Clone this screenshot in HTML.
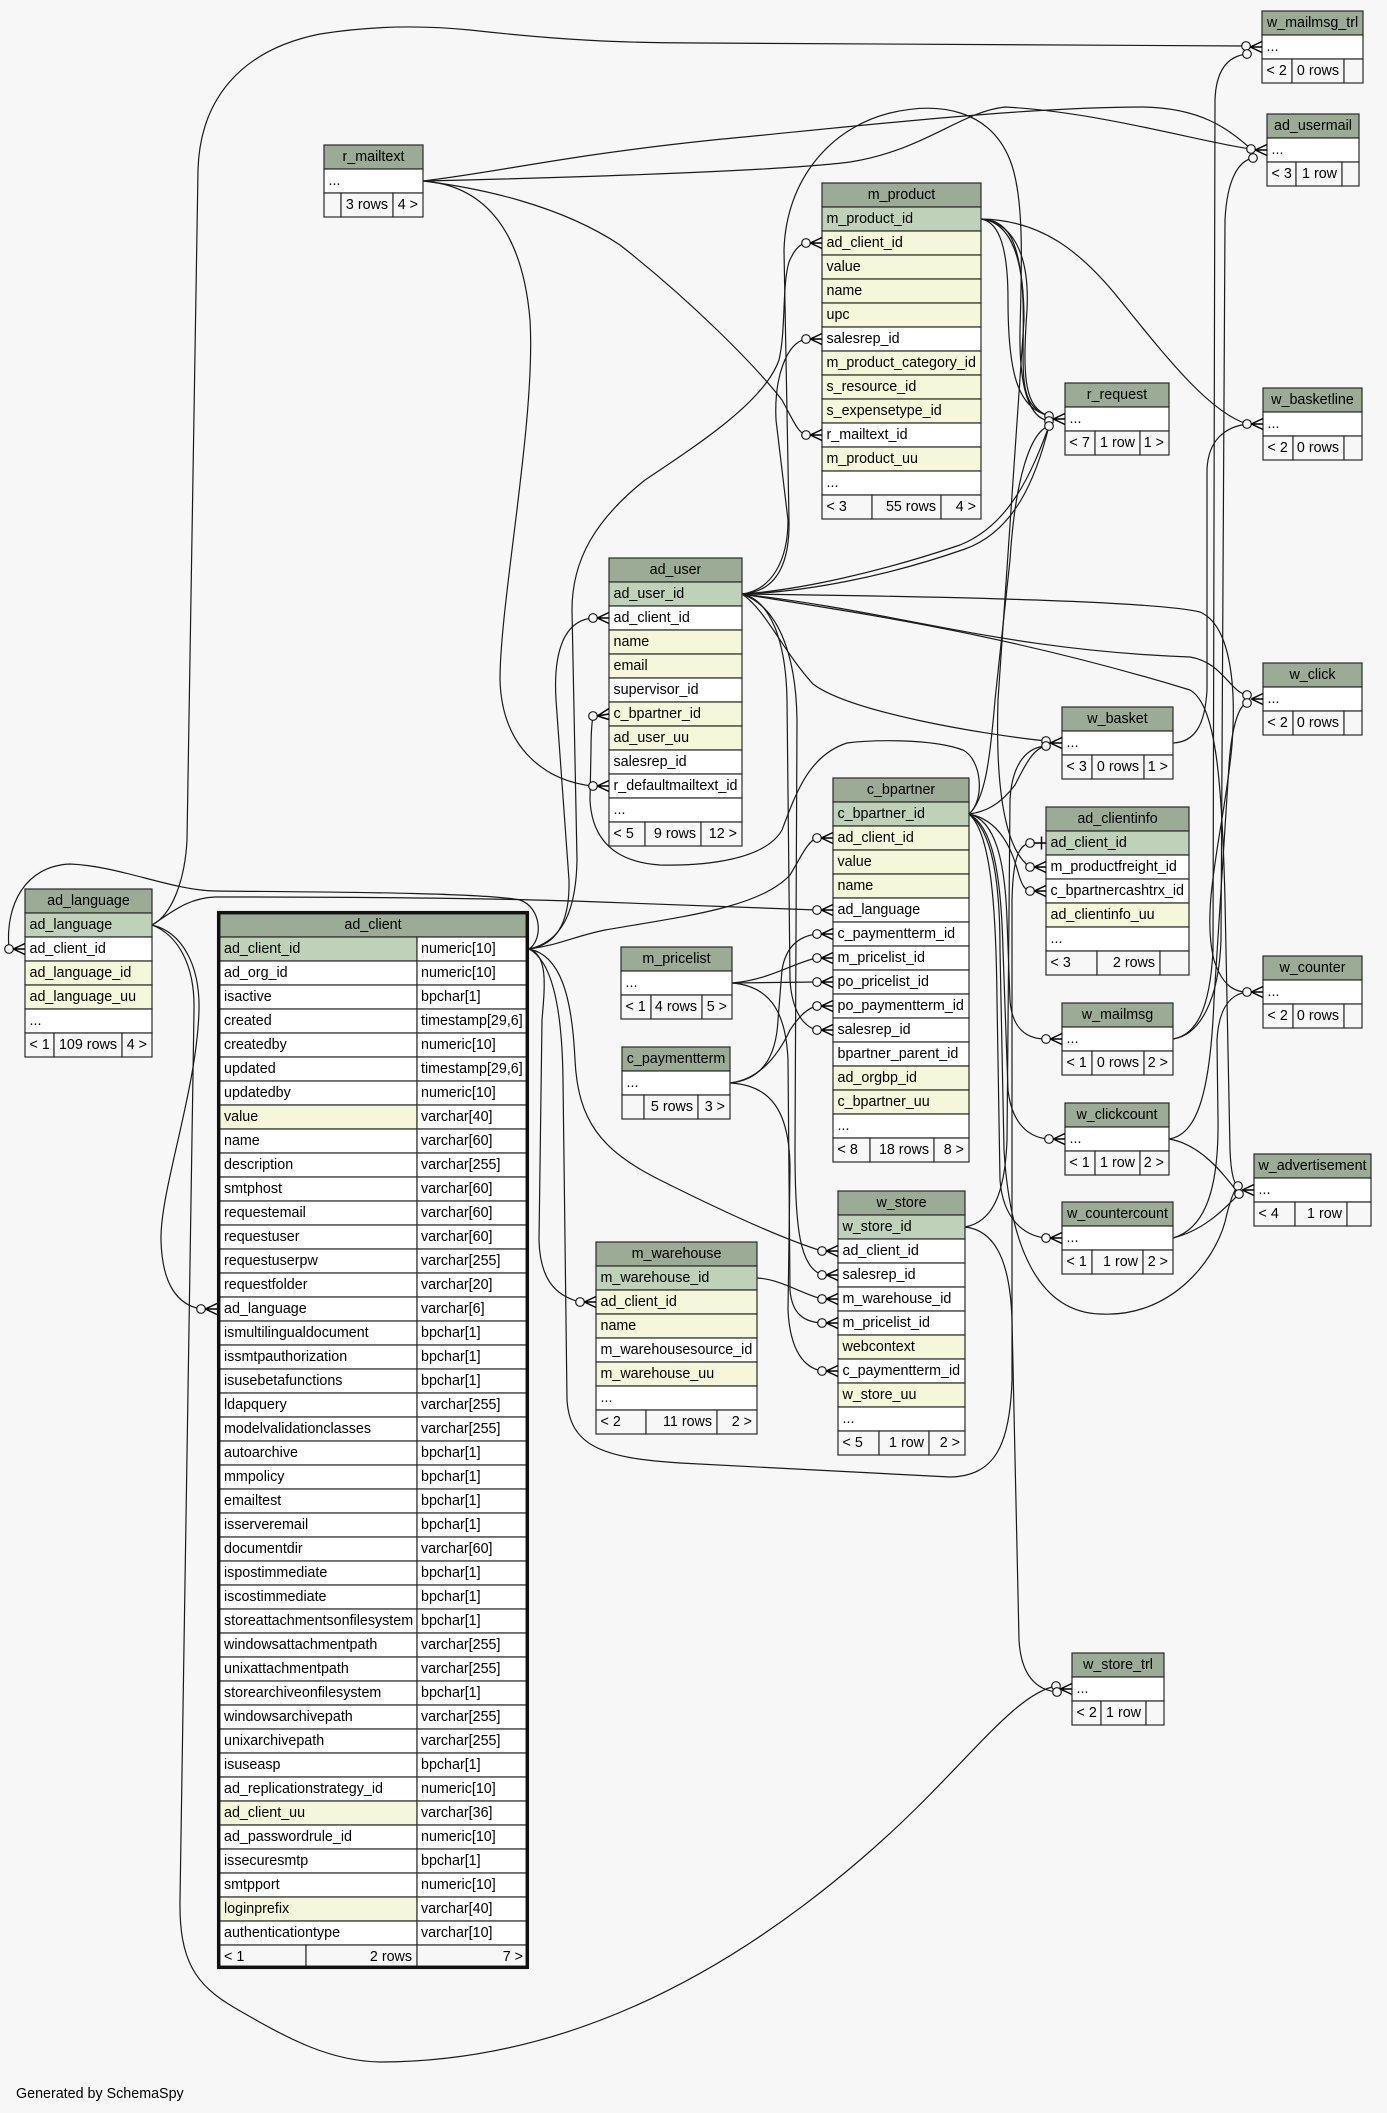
<!DOCTYPE html>
<html>
<head>
<meta charset="utf-8">
<style>
html,body{margin:0;padding:0;background:#f7f7f7;}
svg{display:block;}
svg text{font-family:"Liberation Sans",Arial,sans-serif;font-size:14.3px;fill:#000;}
.c{text-anchor:middle;}
.r{text-anchor:end;}
.t rect{stroke:#2a2a2a;stroke-width:1.2;}
.h{fill:#9bab96;}.k{fill:#bfd1b9;}.i{fill:#f4f7da;}.w{fill:#ffffff;}.f{fill:#f7f7f7;}
.e path{fill:none;stroke:#1a1a1a;stroke-width:1.2;}
.m circle{fill:#f7f7f7;stroke:#1a1a1a;stroke-width:1.2;}
.m path{fill:none;stroke:#000;stroke-width:1.5;}
</style>
</head>
<body>
<svg width="1387" height="2113" viewBox="0 0 1387 2113" xmlns="http://www.w3.org/2000/svg">
<rect x="0" y="0" width="1387" height="2113" fill="#f7f7f7"/>

<!-- EDGES -->
<g class="e">
<path d="M529,949 C543,940 542,908 520,900 C480,892 300,892 215,891 C170,890 120,866 70,864 C25,866 5,905 9,949"/>
<path d="M152,925 C182,932 200,965 199,1010 C197,1090 160,1190 161,1240 C162,1285 178,1305 201,1309"/>
<path d="M152,925 C172,912 188,898 215,897 C350,897 500,898 600,902 C700,905 770,908 817,910"/>
<path d="M152,925 C172,915 185,880 187,840 L198,170 C200,100 240,50 320,34 C370,26 420,25 470,30 C560,40 620,43 700,43 L1246,46"/>
<path d="M152,925 C178,935 195,965 194,1010 L180,1900 C179,1960 195,1985 235,2008 C290,2040 330,2061 380,2062 C560,2062 720,1980 860,1860 C960,1775 1010,1695 1056,1686"/>
<path d="M965,1227 C992,1230 1010,1255 1012,1320 L1019,1640 C1021,1675 1036,1690 1057,1692"/>
<path d="M965,1227 C992,1222 1005,1195 1007,1140 L1010,800 C1012,762 1028,747 1046,746"/>
<path d="M529,949 C550,960 562,1000 563,1080 L567,1400 C570,1445 600,1458 680,1463 L950,1477 C995,1476 1010,1445 1012,1380 L1012,900 C1013,860 1018,845 1030,843"/>
<path d="M529,949 C555,945 570,925 569,880 L556,700 C553,650 565,620 593,618"/>
<path d="M529,949 C560,942 576,915 577,860 L572,610 C572,560 595,520 645,480 C705,440 765,400 779,360 C786,330 782,285 789,262 C794,250 800,244 806,243"/>
<path d="M529,949 C560,945 575,936 605,930 C680,917 760,908 790,875 C802,855 808,841 817,838"/>
<path d="M529,949 C560,955 572,995 575,1060 C578,1120 600,1150 660,1180 C720,1210 780,1238 822,1251"/>
<path d="M529,949 C548,955 545,985 542,1020 L539,1240 C540,1280 556,1296 580,1302"/>
<path d="M423,181 C480,188 560,205 620,245 C690,300 755,365 782,400 C793,420 798,433 806,435"/>
<path d="M423,181 C480,185 522,225 530,320 C536,420 500,600 500,680 C502,750 548,782 593,786"/>
<path d="M423,181 C500,172 560,156 713,140 C850,127 1020,107 1143,107 C1200,108 1228,128 1251,149"/>
<path d="M423,181 C600,177 790,170 850,162 C925,150 960,112 1005,107 C1100,112 1200,142 1251,149"/>
<path d="M1173,1039 C1196,1035 1210,1010 1213,950 L1215,100 C1216,70 1228,56 1247,54"/>
<path d="M1173,1039 C1200,1035 1219,1000 1221,940 L1225,220 C1227,180 1238,161 1253,158"/>
<path d="M742,594 C772,590 788,560 788,520 L776,420 C774,378 786,343 806,339"/>
<path d="M742,594 C772,592 790,570 789,520 L784,250 C786,180 830,128 890,113 C940,101 990,110 1010,160 C1024,195 1022,260 1020,330 C1019,390 1030,418 1049,421"/>
<path d="M742,594 C800,590 880,572 960,545 C1010,525 1032,472 1049,426"/>
<path d="M742,594 C805,592 885,577 965,549 C1015,531 1036,478 1049,426"/>
<path d="M742,594 C900,612 1000,650 1190,657 C1222,662 1230,692 1247,695"/>
<path d="M742,594 C900,596 1150,600 1200,612 C1232,626 1236,690 1232,745 C1225,825 1200,905 1214,960 C1222,985 1234,992 1247,992"/>
<path d="M742,594 C850,612 1000,632 1190,690 C1216,705 1222,780 1225,900 L1230,1150 C1231,1174 1234,1184 1238,1186"/>
<path d="M742,594 C766,610 782,650 813,684 C850,712 980,734 1046,741"/>
<path d="M742,594 C770,600 786,640 787,700 L790,980 C792,1012 804,1027 817,1030"/>
<path d="M742,594 C776,606 796,650 797,720 L795,1150 C795,1230 800,1266 822,1275"/>
<path d="M969,814 C985,800 982,760 963,750 C930,738 870,740 847,743 C810,755 797,790 782,830 C765,860 705,866 660,865 C615,862 592,840 590,800 L591,750 C591,733 592,722 593,716"/>
<path d="M969,814 C985,812 1000,805 1015,785 C1026,763 1034,748 1046,746"/>
<path d="M969,814 C985,800 990,760 995,700 L1010,560 C1015,480 1030,432 1049,426"/>
<path d="M969,814 C1000,820 1012,850 1018,872 C1022,886 1025,890 1030,891"/>
<path d="M969,814 C992,830 1000,880 1000,950 L1004,1150 C1010,1250 1040,1312 1100,1314 C1170,1318 1214,1262 1225,1222 C1230,1200 1234,1190 1238,1186"/>
<path d="M969,814 C995,820 1005,860 1007,920 L1010,1000 C1012,1030 1028,1039 1046,1039"/>
<path d="M969,814 C992,826 1001,870 1003,950 L1008,1090 C1012,1125 1030,1138 1049,1139"/>
<path d="M969,814 C990,832 996,900 997,1000 L1000,1180 C1003,1220 1025,1236 1046,1238"/>
<path d="M981,219 C1005,220 1020,235 1023,300 C1025,370 1015,405 1049,416"/>
<path d="M981,219 C1010,222 1030,250 1027,310 C1022,380 1025,408 1049,416"/>
<path d="M981,219 C1000,222 1008,250 1008,300 C1008,380 1020,408 1049,416"/>
<path d="M981,219 C1040,220 1080,250 1120,300 C1170,362 1210,412 1247,424"/>
<path d="M981,219 C1012,222 1024,260 1024,320 L998,700 C995,800 1008,852 1030,867"/>
<path d="M1173,743 C1195,742 1205,725 1207,690 L1207,470 C1208,440 1225,427 1247,424"/>
<path d="M1169,1139 C1195,1135 1210,1100 1214,1000 L1229,765 C1232,722 1240,705 1247,703"/>
<path d="M1169,1139 C1200,1144 1222,1172 1239,1194"/>
<path d="M1173,1238 C1200,1230 1219,1200 1218,1120 L1217,1040 C1219,1005 1232,994 1247,992"/>
<path d="M1173,1238 C1205,1230 1225,1208 1239,1194"/>
<path d="M732,983 C770,980 795,962 817,958"/>
<path d="M732,983 L817,982"/>
<path d="M732,983 C770,986 786,1012 788,1060 L790,1290 C792,1315 805,1322 822,1323"/>
<path d="M730,1083 C760,1080 776,1060 778,1020 L782,970 C786,945 800,936 817,934"/>
<path d="M730,1083 C756,1080 776,1060 790,1030 C800,1015 808,1008 817,1006"/>
<path d="M730,1083 C770,1085 790,1110 790,1170 L788,1310 C790,1352 805,1368 822,1371"/>
<path d="M757,1278 C780,1279 800,1293 822,1299"/>
</g>

<!-- TABLES -->
<!-- w_mailmsg_trl -->
<g class="t">
<rect class="h" x="1262" y="11" width="101" height="24"/>
<rect class="w" x="1262" y="35" width="101" height="24"/>
<rect class="f" x="1262" y="59" width="30" height="24"/>
<rect class="f" x="1292" y="59" width="52" height="24"/>
<rect class="f" x="1344" y="59" width="19" height="24"/>
<text class="c" x="1312.5" y="27">w_mailmsg_trl</text>
<text x="1266.5" y="51">...</text>
<text x="1266.5" y="75">&lt; 2</text>
<text class="r" x="1339" y="75">0 rows</text>
</g>
<!-- ad_usermail -->
<g class="t">
<rect class="h" x="1267" y="114" width="92" height="24"/>
<rect class="w" x="1267" y="138" width="92" height="24"/>
<rect class="f" x="1267" y="162" width="29" height="24"/>
<rect class="f" x="1296" y="162" width="46" height="24"/>
<rect class="f" x="1342" y="162" width="17" height="24"/>
<text class="c" x="1313" y="130">ad_usermail</text>
<text x="1271.5" y="154">...</text>
<text x="1271.5" y="178">&lt; 3</text>
<text class="r" x="1337" y="178">1 row</text>
</g>
<!-- r_mailtext -->
<g class="t">
<rect class="h" x="324" y="145" width="99" height="24"/>
<rect class="w" x="324" y="169" width="99" height="24"/>
<rect class="f" x="324" y="193" width="17" height="24"/>
<rect class="f" x="341" y="193" width="52" height="24"/>
<rect class="f" x="393" y="193" width="30" height="24"/>
<text class="c" x="373.5" y="161">r_mailtext</text>
<text x="328.5" y="185">...</text>
<text class="r" x="388" y="209">3 rows</text>
<text class="r" x="418" y="209">4 &gt;</text>
</g>
<!-- m_product -->
<g class="t">
<rect class="h" x="822" y="183" width="159" height="24"/>
<rect class="k" x="822" y="207" width="159" height="24"/>
<rect class="i" x="822" y="231" width="159" height="24"/>
<rect class="i" x="822" y="255" width="159" height="24"/>
<rect class="i" x="822" y="279" width="159" height="24"/>
<rect class="i" x="822" y="303" width="159" height="24"/>
<rect class="w" x="822" y="327" width="159" height="24"/>
<rect class="i" x="822" y="351" width="159" height="24"/>
<rect class="i" x="822" y="375" width="159" height="24"/>
<rect class="i" x="822" y="399" width="159" height="24"/>
<rect class="w" x="822" y="423" width="159" height="24"/>
<rect class="i" x="822" y="447" width="159" height="24"/>
<rect class="w" x="822" y="471" width="159" height="24"/>
<rect class="f" x="822" y="495" width="50" height="24"/>
<rect class="f" x="872" y="495" width="69" height="24"/>
<rect class="f" x="941" y="495" width="40" height="24"/>
<text class="c" x="901.5" y="199">m_product</text>
<text x="826.5" y="223">m_product_id</text>
<text x="826.5" y="247">ad_client_id</text>
<text x="826.5" y="271">value</text>
<text x="826.5" y="295">name</text>
<text x="826.5" y="319">upc</text>
<text x="826.5" y="343">salesrep_id</text>
<text x="826.5" y="367">m_product_category_id</text>
<text x="826.5" y="391">s_resource_id</text>
<text x="826.5" y="415">s_expensetype_id</text>
<text x="826.5" y="439">r_mailtext_id</text>
<text x="826.5" y="463">m_product_uu</text>
<text x="826.5" y="487">...</text>
<text x="826.5" y="511">&lt; 3</text>
<text class="r" x="936" y="511">55 rows</text>
<text class="r" x="976" y="511">4 &gt;</text>
</g>
<!-- r_request -->
<g class="t">
<rect class="h" x="1065" y="383" width="104" height="24"/>
<rect class="w" x="1065" y="407" width="104" height="24"/>
<rect class="f" x="1065" y="431" width="30" height="24"/>
<rect class="f" x="1095" y="431" width="45" height="24"/>
<rect class="f" x="1140" y="431" width="29" height="24"/>
<text class="c" x="1117" y="399">r_request</text>
<text x="1069.5" y="423">...</text>
<text x="1069.5" y="447">&lt; 7</text>
<text class="r" x="1135" y="447">1 row</text>
<text class="r" x="1164" y="447">1 &gt;</text>
</g>
<!-- w_basketline -->
<g class="t">
<rect class="h" x="1263" y="388" width="99" height="24"/>
<rect class="w" x="1263" y="412" width="99" height="24"/>
<rect class="f" x="1263" y="436" width="30" height="24"/>
<rect class="f" x="1293" y="436" width="51" height="24"/>
<rect class="f" x="1344" y="436" width="18" height="24"/>
<text class="c" x="1312.5" y="404">w_basketline</text>
<text x="1267.5" y="428">...</text>
<text x="1267.5" y="452">&lt; 2</text>
<text class="r" x="1339" y="452">0 rows</text>
</g>
<!-- ad_user -->
<g class="t">
<rect class="h" x="609" y="558" width="133" height="24"/>
<rect class="k" x="609" y="582" width="133" height="24"/>
<rect class="w" x="609" y="606" width="133" height="24"/>
<rect class="i" x="609" y="630" width="133" height="24"/>
<rect class="i" x="609" y="654" width="133" height="24"/>
<rect class="w" x="609" y="678" width="133" height="24"/>
<rect class="i" x="609" y="702" width="133" height="24"/>
<rect class="i" x="609" y="726" width="133" height="24"/>
<rect class="w" x="609" y="750" width="133" height="24"/>
<rect class="w" x="609" y="774" width="133" height="24"/>
<rect class="w" x="609" y="798" width="133" height="24"/>
<rect class="f" x="609" y="822" width="36" height="24"/>
<rect class="f" x="645" y="822" width="56" height="24"/>
<rect class="f" x="701" y="822" width="41" height="24"/>
<text class="c" x="675.5" y="574">ad_user</text>
<text x="613.5" y="598">ad_user_id</text>
<text x="613.5" y="622">ad_client_id</text>
<text x="613.5" y="646">name</text>
<text x="613.5" y="670">email</text>
<text x="613.5" y="694">supervisor_id</text>
<text x="613.5" y="718">c_bpartner_id</text>
<text x="613.5" y="742">ad_user_uu</text>
<text x="613.5" y="766">salesrep_id</text>
<text x="613.5" y="790">r_defaultmailtext_id</text>
<text x="613.5" y="814">...</text>
<text x="613.5" y="838">&lt; 5</text>
<text class="r" x="696" y="838">9 rows</text>
<text class="r" x="737" y="838">12 &gt;</text>
</g>
<!-- w_click -->
<g class="t">
<rect class="h" x="1263" y="663" width="99" height="24"/>
<rect class="w" x="1263" y="687" width="99" height="24"/>
<rect class="f" x="1263" y="711" width="30" height="24"/>
<rect class="f" x="1293" y="711" width="51" height="24"/>
<rect class="f" x="1344" y="711" width="18" height="24"/>
<text class="c" x="1312.5" y="679">w_click</text>
<text x="1267.5" y="703">...</text>
<text x="1267.5" y="727">&lt; 2</text>
<text class="r" x="1339" y="727">0 rows</text>
</g>
<!-- w_basket -->
<g class="t">
<rect class="h" x="1062" y="707" width="111" height="24"/>
<rect class="w" x="1062" y="731" width="111" height="24"/>
<rect class="f" x="1062" y="755" width="30" height="24"/>
<rect class="f" x="1092" y="755" width="52" height="24"/>
<rect class="f" x="1144" y="755" width="29" height="24"/>
<text class="c" x="1117.5" y="723">w_basket</text>
<text x="1066.5" y="747">...</text>
<text x="1066.5" y="771">&lt; 3</text>
<text class="r" x="1139" y="771">0 rows</text>
<text class="r" x="1168" y="771">1 &gt;</text>
</g>
<!-- c_bpartner -->
<g class="t">
<rect class="h" x="833" y="778" width="136" height="24"/>
<rect class="k" x="833" y="802" width="136" height="24"/>
<rect class="i" x="833" y="826" width="136" height="24"/>
<rect class="i" x="833" y="850" width="136" height="24"/>
<rect class="i" x="833" y="874" width="136" height="24"/>
<rect class="w" x="833" y="898" width="136" height="24"/>
<rect class="w" x="833" y="922" width="136" height="24"/>
<rect class="w" x="833" y="946" width="136" height="24"/>
<rect class="w" x="833" y="970" width="136" height="24"/>
<rect class="w" x="833" y="994" width="136" height="24"/>
<rect class="w" x="833" y="1018" width="136" height="24"/>
<rect class="w" x="833" y="1042" width="136" height="24"/>
<rect class="i" x="833" y="1066" width="136" height="24"/>
<rect class="i" x="833" y="1090" width="136" height="24"/>
<rect class="w" x="833" y="1114" width="136" height="24"/>
<rect class="f" x="833" y="1138" width="37" height="24"/>
<rect class="f" x="870" y="1138" width="64" height="24"/>
<rect class="f" x="934" y="1138" width="35" height="24"/>
<text class="c" x="901" y="794">c_bpartner</text>
<text x="837.5" y="818">c_bpartner_id</text>
<text x="837.5" y="842">ad_client_id</text>
<text x="837.5" y="866">value</text>
<text x="837.5" y="890">name</text>
<text x="837.5" y="914">ad_language</text>
<text x="837.5" y="938">c_paymentterm_id</text>
<text x="837.5" y="962">m_pricelist_id</text>
<text x="837.5" y="986">po_pricelist_id</text>
<text x="837.5" y="1010">po_paymentterm_id</text>
<text x="837.5" y="1034">salesrep_id</text>
<text x="837.5" y="1058">bpartner_parent_id</text>
<text x="837.5" y="1082">ad_orgbp_id</text>
<text x="837.5" y="1106">c_bpartner_uu</text>
<text x="837.5" y="1130">...</text>
<text x="837.5" y="1154">&lt; 8</text>
<text class="r" x="929" y="1154">18 rows</text>
<text class="r" x="964" y="1154">8 &gt;</text>
</g>
<!-- ad_clientinfo -->
<g class="t">
<rect class="h" x="1046" y="807" width="143" height="24"/>
<rect class="k" x="1046" y="831" width="143" height="24"/>
<rect class="w" x="1046" y="855" width="143" height="24"/>
<rect class="w" x="1046" y="879" width="143" height="24"/>
<rect class="i" x="1046" y="903" width="143" height="24"/>
<rect class="w" x="1046" y="927" width="143" height="24"/>
<rect class="f" x="1046" y="951" width="51" height="24"/>
<rect class="f" x="1097" y="951" width="63" height="24"/>
<rect class="f" x="1160" y="951" width="29" height="24"/>
<text class="c" x="1117.5" y="823">ad_clientinfo</text>
<text x="1050.5" y="847">ad_client_id</text>
<text x="1050.5" y="871">m_productfreight_id</text>
<text x="1050.5" y="895">c_bpartnercashtrx_id</text>
<text x="1050.5" y="919">ad_clientinfo_uu</text>
<text x="1050.5" y="943">...</text>
<text x="1050.5" y="967">&lt; 3</text>
<text class="r" x="1155" y="967">2 rows</text>
</g>
<!-- ad_language -->
<g class="t">
<rect class="h" x="25" y="889" width="127" height="24"/>
<rect class="k" x="25" y="913" width="127" height="24"/>
<rect class="w" x="25" y="937" width="127" height="24"/>
<rect class="i" x="25" y="961" width="127" height="24"/>
<rect class="i" x="25" y="985" width="127" height="24"/>
<rect class="w" x="25" y="1009" width="127" height="24"/>
<rect class="f" x="25" y="1033" width="29" height="24"/>
<rect class="f" x="54" y="1033" width="68" height="24"/>
<rect class="f" x="122" y="1033" width="30" height="24"/>
<text class="c" x="88.5" y="905">ad_language</text>
<text x="29.5" y="929">ad_language</text>
<text x="29.5" y="953">ad_client_id</text>
<text x="29.5" y="977">ad_language_id</text>
<text x="29.5" y="1001">ad_language_uu</text>
<text x="29.5" y="1025">...</text>
<text x="29.5" y="1049">&lt; 1</text>
<text class="r" x="117" y="1049">109 rows</text>
<text class="r" x="147" y="1049">4 &gt;</text>
</g>
<!-- m_pricelist -->
<g class="t">
<rect class="h" x="621" y="947" width="111" height="24"/>
<rect class="w" x="621" y="971" width="111" height="24"/>
<rect class="f" x="621" y="995" width="30" height="24"/>
<rect class="f" x="651" y="995" width="51" height="24"/>
<rect class="f" x="702" y="995" width="30" height="24"/>
<text class="c" x="676.5" y="963">m_pricelist</text>
<text x="625.5" y="987">...</text>
<text x="625.5" y="1011">&lt; 1</text>
<text class="r" x="697" y="1011">4 rows</text>
<text class="r" x="727" y="1011">5 &gt;</text>
</g>
<!-- w_counter -->
<g class="t">
<rect class="h" x="1263" y="956" width="99" height="24"/>
<rect class="w" x="1263" y="980" width="99" height="24"/>
<rect class="f" x="1263" y="1004" width="30" height="24"/>
<rect class="f" x="1293" y="1004" width="51" height="24"/>
<rect class="f" x="1344" y="1004" width="18" height="24"/>
<text class="c" x="1312.5" y="972">w_counter</text>
<text x="1267.5" y="996">...</text>
<text x="1267.5" y="1020">&lt; 2</text>
<text class="r" x="1339" y="1020">0 rows</text>
</g>
<!-- w_mailmsg -->
<g class="t">
<rect class="h" x="1062" y="1003" width="111" height="24"/>
<rect class="w" x="1062" y="1027" width="111" height="24"/>
<rect class="f" x="1062" y="1051" width="30" height="24"/>
<rect class="f" x="1092" y="1051" width="52" height="24"/>
<rect class="f" x="1144" y="1051" width="29" height="24"/>
<text class="c" x="1117.5" y="1019">w_mailmsg</text>
<text x="1066.5" y="1043">...</text>
<text x="1066.5" y="1067">&lt; 1</text>
<text class="r" x="1139" y="1067">0 rows</text>
<text class="r" x="1168" y="1067">2 &gt;</text>
</g>
<!-- c_paymentterm -->
<g class="t">
<rect class="h" x="622" y="1047" width="108" height="24"/>
<rect class="w" x="622" y="1071" width="108" height="24"/>
<rect class="f" x="622" y="1095" width="22" height="24"/>
<rect class="f" x="644" y="1095" width="54" height="24"/>
<rect class="f" x="698" y="1095" width="32" height="24"/>
<text class="c" x="676" y="1063">c_paymentterm</text>
<text x="626.5" y="1087">...</text>
<text class="r" x="693" y="1111">5 rows</text>
<text class="r" x="725" y="1111">3 &gt;</text>
</g>
<!-- w_clickcount -->
<g class="t">
<rect class="h" x="1065" y="1103" width="104" height="24"/>
<rect class="w" x="1065" y="1127" width="104" height="24"/>
<rect class="f" x="1065" y="1151" width="30" height="24"/>
<rect class="f" x="1095" y="1151" width="45" height="24"/>
<rect class="f" x="1140" y="1151" width="29" height="24"/>
<text class="c" x="1117" y="1119">w_clickcount</text>
<text x="1069.5" y="1143">...</text>
<text x="1069.5" y="1167">&lt; 1</text>
<text class="r" x="1135" y="1167">1 row</text>
<text class="r" x="1164" y="1167">2 &gt;</text>
</g>
<!-- w_advertisement -->
<g class="t">
<rect class="h" x="1254" y="1154" width="117" height="24"/>
<rect class="w" x="1254" y="1178" width="117" height="24"/>
<rect class="f" x="1254" y="1202" width="41" height="24"/>
<rect class="f" x="1295" y="1202" width="52" height="24"/>
<rect class="f" x="1347" y="1202" width="24" height="24"/>
<text class="c" x="1312.5" y="1170">w_advertisement</text>
<text x="1258.5" y="1194">...</text>
<text x="1258.5" y="1218">&lt; 4</text>
<text class="r" x="1342" y="1218">1 row</text>
</g>
<!-- w_store -->
<g class="t">
<rect class="h" x="838" y="1191" width="127" height="24"/>
<rect class="k" x="838" y="1215" width="127" height="24"/>
<rect class="w" x="838" y="1239" width="127" height="24"/>
<rect class="w" x="838" y="1263" width="127" height="24"/>
<rect class="w" x="838" y="1287" width="127" height="24"/>
<rect class="w" x="838" y="1311" width="127" height="24"/>
<rect class="i" x="838" y="1335" width="127" height="24"/>
<rect class="w" x="838" y="1359" width="127" height="24"/>
<rect class="i" x="838" y="1383" width="127" height="24"/>
<rect class="w" x="838" y="1407" width="127" height="24"/>
<rect class="f" x="838" y="1431" width="41" height="24"/>
<rect class="f" x="879" y="1431" width="50" height="24"/>
<rect class="f" x="929" y="1431" width="36" height="24"/>
<text class="c" x="901.5" y="1207">w_store</text>
<text x="842.5" y="1231">w_store_id</text>
<text x="842.5" y="1255">ad_client_id</text>
<text x="842.5" y="1279">salesrep_id</text>
<text x="842.5" y="1303">m_warehouse_id</text>
<text x="842.5" y="1327">m_pricelist_id</text>
<text x="842.5" y="1351">webcontext</text>
<text x="842.5" y="1375">c_paymentterm_id</text>
<text x="842.5" y="1399">w_store_uu</text>
<text x="842.5" y="1423">...</text>
<text x="842.5" y="1447">&lt; 5</text>
<text class="r" x="924" y="1447">1 row</text>
<text class="r" x="960" y="1447">2 &gt;</text>
</g>
<!-- w_countercount -->
<g class="t">
<rect class="h" x="1062" y="1202" width="111" height="24"/>
<rect class="w" x="1062" y="1226" width="111" height="24"/>
<rect class="f" x="1062" y="1250" width="30" height="24"/>
<rect class="f" x="1092" y="1250" width="51" height="24"/>
<rect class="f" x="1143" y="1250" width="30" height="24"/>
<text class="c" x="1117.5" y="1218">w_countercount</text>
<text x="1066.5" y="1242">...</text>
<text x="1066.5" y="1266">&lt; 1</text>
<text class="r" x="1138" y="1266">1 row</text>
<text class="r" x="1168" y="1266">2 &gt;</text>
</g>
<!-- m_warehouse -->
<g class="t">
<rect class="h" x="596" y="1242" width="161" height="24"/>
<rect class="k" x="596" y="1266" width="161" height="24"/>
<rect class="i" x="596" y="1290" width="161" height="24"/>
<rect class="i" x="596" y="1314" width="161" height="24"/>
<rect class="w" x="596" y="1338" width="161" height="24"/>
<rect class="i" x="596" y="1362" width="161" height="24"/>
<rect class="w" x="596" y="1386" width="161" height="24"/>
<rect class="f" x="596" y="1410" width="50" height="24"/>
<rect class="f" x="646" y="1410" width="71" height="24"/>
<rect class="f" x="717" y="1410" width="40" height="24"/>
<text class="c" x="676.5" y="1258">m_warehouse</text>
<text x="600.5" y="1282">m_warehouse_id</text>
<text x="600.5" y="1306">ad_client_id</text>
<text x="600.5" y="1330">name</text>
<text x="600.5" y="1354">m_warehousesource_id</text>
<text x="600.5" y="1378">m_warehouse_uu</text>
<text x="600.5" y="1402">...</text>
<text x="600.5" y="1426">&lt; 2</text>
<text class="r" x="712" y="1426">11 rows</text>
<text class="r" x="752" y="1426">2 &gt;</text>
</g>
<!-- w_store_trl -->
<g class="t">
<rect class="h" x="1072" y="1653" width="92" height="24"/>
<rect class="w" x="1072" y="1677" width="92" height="24"/>
<rect class="f" x="1072" y="1701" width="29" height="24"/>
<rect class="f" x="1101" y="1701" width="45" height="24"/>
<rect class="f" x="1146" y="1701" width="18" height="24"/>
<text class="c" x="1118" y="1669">w_store_trl</text>
<text x="1076.5" y="1693">...</text>
<text x="1076.5" y="1717">&lt; 2</text>
<text class="r" x="1141" y="1717">1 row</text>
</g>

<!-- ad_client (selected table, thick border) -->
<g class="t">
<rect class="h" x="219" y="913" width="308" height="24"/>
<rect class="k" x="219" y="937" width="198" height="24"/><rect class="w" x="417" y="937" width="110" height="24"/>
<rect class="w" x="219" y="961" width="198" height="24"/><rect class="w" x="417" y="961" width="110" height="24"/>
<rect class="w" x="219" y="985" width="198" height="24"/><rect class="w" x="417" y="985" width="110" height="24"/>
<rect class="w" x="219" y="1009" width="198" height="24"/><rect class="w" x="417" y="1009" width="110" height="24"/>
<rect class="w" x="219" y="1033" width="198" height="24"/><rect class="w" x="417" y="1033" width="110" height="24"/>
<rect class="w" x="219" y="1057" width="198" height="24"/><rect class="w" x="417" y="1057" width="110" height="24"/>
<rect class="w" x="219" y="1081" width="198" height="24"/><rect class="w" x="417" y="1081" width="110" height="24"/>
<rect class="i" x="219" y="1105" width="198" height="24"/><rect class="w" x="417" y="1105" width="110" height="24"/>
<rect class="w" x="219" y="1129" width="198" height="24"/><rect class="w" x="417" y="1129" width="110" height="24"/>
<rect class="w" x="219" y="1153" width="198" height="24"/><rect class="w" x="417" y="1153" width="110" height="24"/>
<rect class="w" x="219" y="1177" width="198" height="24"/><rect class="w" x="417" y="1177" width="110" height="24"/>
<rect class="w" x="219" y="1201" width="198" height="24"/><rect class="w" x="417" y="1201" width="110" height="24"/>
<rect class="w" x="219" y="1225" width="198" height="24"/><rect class="w" x="417" y="1225" width="110" height="24"/>
<rect class="w" x="219" y="1249" width="198" height="24"/><rect class="w" x="417" y="1249" width="110" height="24"/>
<rect class="w" x="219" y="1273" width="198" height="24"/><rect class="w" x="417" y="1273" width="110" height="24"/>
<rect class="w" x="219" y="1297" width="198" height="24"/><rect class="w" x="417" y="1297" width="110" height="24"/>
<rect class="w" x="219" y="1321" width="198" height="24"/><rect class="w" x="417" y="1321" width="110" height="24"/>
<rect class="w" x="219" y="1345" width="198" height="24"/><rect class="w" x="417" y="1345" width="110" height="24"/>
<rect class="w" x="219" y="1369" width="198" height="24"/><rect class="w" x="417" y="1369" width="110" height="24"/>
<rect class="w" x="219" y="1393" width="198" height="24"/><rect class="w" x="417" y="1393" width="110" height="24"/>
<rect class="w" x="219" y="1417" width="198" height="24"/><rect class="w" x="417" y="1417" width="110" height="24"/>
<rect class="w" x="219" y="1441" width="198" height="24"/><rect class="w" x="417" y="1441" width="110" height="24"/>
<rect class="w" x="219" y="1465" width="198" height="24"/><rect class="w" x="417" y="1465" width="110" height="24"/>
<rect class="w" x="219" y="1489" width="198" height="24"/><rect class="w" x="417" y="1489" width="110" height="24"/>
<rect class="w" x="219" y="1513" width="198" height="24"/><rect class="w" x="417" y="1513" width="110" height="24"/>
<rect class="w" x="219" y="1537" width="198" height="24"/><rect class="w" x="417" y="1537" width="110" height="24"/>
<rect class="w" x="219" y="1561" width="198" height="24"/><rect class="w" x="417" y="1561" width="110" height="24"/>
<rect class="w" x="219" y="1585" width="198" height="24"/><rect class="w" x="417" y="1585" width="110" height="24"/>
<rect class="w" x="219" y="1609" width="198" height="24"/><rect class="w" x="417" y="1609" width="110" height="24"/>
<rect class="w" x="219" y="1633" width="198" height="24"/><rect class="w" x="417" y="1633" width="110" height="24"/>
<rect class="w" x="219" y="1657" width="198" height="24"/><rect class="w" x="417" y="1657" width="110" height="24"/>
<rect class="w" x="219" y="1681" width="198" height="24"/><rect class="w" x="417" y="1681" width="110" height="24"/>
<rect class="w" x="219" y="1705" width="198" height="24"/><rect class="w" x="417" y="1705" width="110" height="24"/>
<rect class="w" x="219" y="1729" width="198" height="24"/><rect class="w" x="417" y="1729" width="110" height="24"/>
<rect class="w" x="219" y="1753" width="198" height="24"/><rect class="w" x="417" y="1753" width="110" height="24"/>
<rect class="w" x="219" y="1777" width="198" height="24"/><rect class="w" x="417" y="1777" width="110" height="24"/>
<rect class="i" x="219" y="1801" width="198" height="24"/><rect class="w" x="417" y="1801" width="110" height="24"/>
<rect class="w" x="219" y="1825" width="198" height="24"/><rect class="w" x="417" y="1825" width="110" height="24"/>
<rect class="w" x="219" y="1849" width="198" height="24"/><rect class="w" x="417" y="1849" width="110" height="24"/>
<rect class="w" x="219" y="1873" width="198" height="24"/><rect class="w" x="417" y="1873" width="110" height="24"/>
<rect class="i" x="219" y="1897" width="198" height="24"/><rect class="w" x="417" y="1897" width="110" height="24"/>
<rect class="w" x="219" y="1921" width="198" height="24"/><rect class="w" x="417" y="1921" width="110" height="24"/>
<rect class="f" x="219" y="1945" width="87" height="22"/>
<rect class="f" x="306" y="1945" width="111" height="22"/>
<rect class="f" x="417" y="1945" width="110" height="22"/>
<rect x="218.7" y="912.7" width="308.6" height="1054.6" fill="none" style="stroke:#111;stroke-width:3.5"/>
<text class="c" x="373" y="929">ad_client</text>
<text x="224" y="953">ad_client_id</text><text x="421" y="953">numeric[10]</text>
<text x="224" y="977">ad_org_id</text><text x="421" y="977">numeric[10]</text>
<text x="224" y="1001">isactive</text><text x="421" y="1001">bpchar[1]</text>
<text x="224" y="1025">created</text><text x="421" y="1025">timestamp[29,6]</text>
<text x="224" y="1049">createdby</text><text x="421" y="1049">numeric[10]</text>
<text x="224" y="1073">updated</text><text x="421" y="1073">timestamp[29,6]</text>
<text x="224" y="1097">updatedby</text><text x="421" y="1097">numeric[10]</text>
<text x="224" y="1121">value</text><text x="421" y="1121">varchar[40]</text>
<text x="224" y="1145">name</text><text x="421" y="1145">varchar[60]</text>
<text x="224" y="1169">description</text><text x="421" y="1169">varchar[255]</text>
<text x="224" y="1193">smtphost</text><text x="421" y="1193">varchar[60]</text>
<text x="224" y="1217">requestemail</text><text x="421" y="1217">varchar[60]</text>
<text x="224" y="1241">requestuser</text><text x="421" y="1241">varchar[60]</text>
<text x="224" y="1265">requestuserpw</text><text x="421" y="1265">varchar[255]</text>
<text x="224" y="1289">requestfolder</text><text x="421" y="1289">varchar[20]</text>
<text x="224" y="1313">ad_language</text><text x="421" y="1313">varchar[6]</text>
<text x="224" y="1337">ismultilingualdocument</text><text x="421" y="1337">bpchar[1]</text>
<text x="224" y="1361">issmtpauthorization</text><text x="421" y="1361">bpchar[1]</text>
<text x="224" y="1385">isusebetafunctions</text><text x="421" y="1385">bpchar[1]</text>
<text x="224" y="1409">ldapquery</text><text x="421" y="1409">varchar[255]</text>
<text x="224" y="1433">modelvalidationclasses</text><text x="421" y="1433">varchar[255]</text>
<text x="224" y="1457">autoarchive</text><text x="421" y="1457">bpchar[1]</text>
<text x="224" y="1481">mmpolicy</text><text x="421" y="1481">bpchar[1]</text>
<text x="224" y="1505">emailtest</text><text x="421" y="1505">bpchar[1]</text>
<text x="224" y="1529">isserveremail</text><text x="421" y="1529">bpchar[1]</text>
<text x="224" y="1553">documentdir</text><text x="421" y="1553">varchar[60]</text>
<text x="224" y="1577">ispostimmediate</text><text x="421" y="1577">bpchar[1]</text>
<text x="224" y="1601">iscostimmediate</text><text x="421" y="1601">bpchar[1]</text>
<text x="224" y="1625">storeattachmentsonfilesystem</text><text x="421" y="1625">bpchar[1]</text>
<text x="224" y="1649">windowsattachmentpath</text><text x="421" y="1649">varchar[255]</text>
<text x="224" y="1673">unixattachmentpath</text><text x="421" y="1673">varchar[255]</text>
<text x="224" y="1697">storearchiveonfilesystem</text><text x="421" y="1697">bpchar[1]</text>
<text x="224" y="1721">windowsarchivepath</text><text x="421" y="1721">varchar[255]</text>
<text x="224" y="1745">unixarchivepath</text><text x="421" y="1745">varchar[255]</text>
<text x="224" y="1769">isuseasp</text><text x="421" y="1769">bpchar[1]</text>
<text x="224" y="1793">ad_replicationstrategy_id</text><text x="421" y="1793">numeric[10]</text>
<text x="224" y="1817">ad_client_uu</text><text x="421" y="1817">varchar[36]</text>
<text x="224" y="1841">ad_passwordrule_id</text><text x="421" y="1841">numeric[10]</text>
<text x="224" y="1865">issecuresmtp</text><text x="421" y="1865">bpchar[1]</text>
<text x="224" y="1889">smtpport</text><text x="421" y="1889">numeric[10]</text>
<text x="224" y="1913">loginprefix</text><text x="421" y="1913">varchar[40]</text>
<text x="224" y="1937">authenticationtype</text><text x="421" y="1937">varchar[10]</text>
<text x="224" y="1961">&lt; 1</text>
<text class="r" x="412" y="1961">2 rows</text>
<text class="r" x="523" y="1961">7 &gt;</text>
</g>

<!-- CHILD-END MARKERS (circle + crow's foot) -->
<g class="m">
<circle cx="9" cy="949" r="4.3"/><path d="M13.3,949l11.7,-5.5m-11.7,5.5h11.7m-11.7,0l11.7,5.5"/>
<circle cx="201" cy="1309" r="4.3"/><path d="M205.3,1309l11.7,-5.5m-11.7,5.5h11.7m-11.7,0l11.7,5.5"/>
<circle cx="806" cy="243" r="4.3"/><path d="M810.3,243l11.7,-5.5m-11.7,5.5h11.7m-11.7,0l11.7,5.5"/>
<circle cx="806" cy="339" r="4.3"/><path d="M810.3,339l11.7,-5.5m-11.7,5.5h11.7m-11.7,0l11.7,5.5"/>
<circle cx="806" cy="435" r="4.3"/><path d="M810.3,435l11.7,-5.5m-11.7,5.5h11.7m-11.7,0l11.7,5.5"/>
<circle cx="593" cy="618" r="4.3"/><path d="M597.3,618l11.7,-5.5m-11.7,5.5h11.7m-11.7,0l11.7,5.5"/>
<circle cx="593" cy="716" r="4.3"/><path d="M597.3,716l11.7,-7.5m-11.7,7.5l11.7,-2m-11.7,2l11.7,3.5"/>
<circle cx="593" cy="786" r="4.3"/><path d="M597.3,786l11.7,-5.5m-11.7,5.5h11.7m-11.7,0l11.7,5.5"/>
<circle cx="817" cy="838" r="4.3"/><path d="M821.3,838l11.7,-5.5m-11.7,5.5h11.7m-11.7,0l11.7,5.5"/>
<circle cx="817" cy="910" r="4.3"/><path d="M821.3,910l11.7,-5.5m-11.7,5.5h11.7m-11.7,0l11.7,5.5"/>
<circle cx="817" cy="934" r="4.3"/><path d="M821.3,934l11.7,-5.5m-11.7,5.5h11.7m-11.7,0l11.7,5.5"/>
<circle cx="817" cy="958" r="4.3"/><path d="M821.3,958l11.7,-5.5m-11.7,5.5h11.7m-11.7,0l11.7,5.5"/>
<circle cx="817" cy="982" r="4.3"/><path d="M821.3,982l11.7,-5.5m-11.7,5.5h11.7m-11.7,0l11.7,5.5"/>
<circle cx="817" cy="1006" r="4.3"/><path d="M821.3,1006l11.7,-5.5m-11.7,5.5h11.7m-11.7,0l11.7,5.5"/>
<circle cx="817" cy="1030" r="4.3"/><path d="M821.3,1030l11.7,-5.5m-11.7,5.5h11.7m-11.7,0l11.7,5.5"/>
<circle cx="1030" cy="843" r="4.3"/><path d="M1034.3,843H1046M1041.5,836.5v13"/>
<circle cx="1030" cy="867" r="4.3"/><path d="M1034.3,867l11.7,-5.5m-11.7,5.5h11.7m-11.7,0l11.7,5.5"/>
<circle cx="1030" cy="891" r="4.3"/><path d="M1034.3,891l11.7,-5.5m-11.7,5.5h11.7m-11.7,0l11.7,5.5"/>
<circle cx="822" cy="1251" r="4.3"/><path d="M826.3,1251l11.7,-5.5m-11.7,5.5h11.7m-11.7,0l11.7,5.5"/>
<circle cx="822" cy="1275" r="4.3"/><path d="M826.3,1275l11.7,-5.5m-11.7,5.5h11.7m-11.7,0l11.7,5.5"/>
<circle cx="822" cy="1299" r="4.3"/><path d="M826.3,1299l11.7,-5.5m-11.7,5.5h11.7m-11.7,0l11.7,5.5"/>
<circle cx="822" cy="1323" r="4.3"/><path d="M826.3,1323l11.7,-5.5m-11.7,5.5h11.7m-11.7,0l11.7,5.5"/>
<circle cx="822" cy="1371" r="4.3"/><path d="M826.3,1371l11.7,-5.5m-11.7,5.5h11.7m-11.7,0l11.7,5.5"/>
<circle cx="580" cy="1302" r="4.3"/><path d="M584.3,1302l11.7,-5.5m-11.7,5.5h11.7m-11.7,0l11.7,5.5"/>
<circle cx="1246" cy="46" r="4.3"/><circle cx="1247" cy="54" r="4.3"/><path d="M1250.3,47l11.7,-5.5m-11.7,5.5h11.7m-11.7,0l11.7,5.5"/>
<circle cx="1251" cy="149" r="4.3"/><circle cx="1253" cy="158" r="4.3"/><path d="M1255.3,150l11.7,-5.5m-11.7,5.5h11.7m-11.7,0l11.7,5.5"/>
<circle cx="1049" cy="416" r="4.3"/><circle cx="1049" cy="421" r="4.3"/><circle cx="1049" cy="426" r="4.3"/><path d="M1053.3,419l11.7,-5.5m-11.7,5.5h11.7m-11.7,0l11.7,5.5"/>
<circle cx="1247" cy="424" r="4.3"/><path d="M1251.3,424l11.7,-5.5m-11.7,5.5h11.7m-11.7,0l11.7,5.5"/>
<circle cx="1247" cy="695" r="4.3"/><circle cx="1247" cy="703" r="4.3"/><path d="M1251.3,699l11.7,-5.5m-11.7,5.5h11.7m-11.7,0l11.7,5.5"/>
<circle cx="1046" cy="741" r="4.3"/><circle cx="1046" cy="746" r="4.3"/><path d="M1050.3,743l11.7,-5.5m-11.7,5.5h11.7m-11.7,0l11.7,5.5"/>
<circle cx="1247" cy="992" r="4.3"/><path d="M1251.3,992l11.7,-5.5m-11.7,5.5h11.7m-11.7,0l11.7,5.5"/>
<circle cx="1046" cy="1039" r="4.3"/><path d="M1050.3,1039l11.7,-5.5m-11.7,5.5h11.7m-11.7,0l11.7,5.5"/>
<circle cx="1049" cy="1139" r="4.3"/><path d="M1053.3,1139l11.7,-5.5m-11.7,5.5h11.7m-11.7,0l11.7,5.5"/>
<circle cx="1238" cy="1186" r="4.3"/><circle cx="1239" cy="1194" r="4.3"/><path d="M1242.3,1190l11.7,-5.5m-11.7,5.5h11.7m-11.7,0l11.7,5.5"/>
<circle cx="1046" cy="1238" r="4.3"/><path d="M1050.3,1238l11.7,-5.5m-11.7,5.5h11.7m-11.7,0l11.7,5.5"/>
<circle cx="1056" cy="1686" r="4.3"/><circle cx="1057" cy="1692" r="4.3"/><path d="M1060.3,1689l11.7,-5.5m-11.7,5.5h11.7m-11.7,0l11.7,5.5"/>
</g>

<text x="16" y="2098">Generated by SchemaSpy</text>
</svg>
</body>
</html>
